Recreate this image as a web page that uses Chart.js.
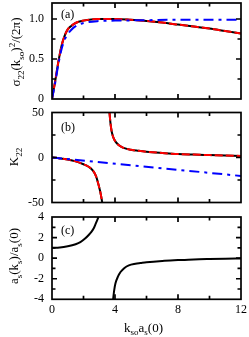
<!DOCTYPE html>
<html>
<head>
<meta charset="utf-8">
<script src="https://cdn.jsdelivr.net/npm/chart.js@4.4.1/dist/chart.umd.min.js"></script>
<style>
  html, body { margin: 0; padding: 0; background: #fff; }
  #wrap { position: relative; width: 249px; height: 337px; }
  #wrap canvas { position: absolute; left: 0; }
</style>
</head>
<body>
<div id="wrap">
  <canvas id="chart-a" width="249" height="105" style="top:0px"></canvas>
  <canvas id="chart-b" width="249" height="105" style="top:105px"></canvas>
  <canvas id="chart-c" width="249" height="127" style="top:210px"></canvas>
</div>
<script>
// panel (a): sigma_22 k^2/(2pi)
const SIGMA_X    = [0, 0.2, 0.4, 0.6, 0.8, 1.0, 1.2, 1.5, 2.0, 2.5, 3.0, 3.5, 4, 5, 6, 7, 8, 9, 10, 11, 12];
const SIGMA_FULL = [0, 0.22, 0.46, 0.66, 0.79, 0.87, 0.91, 0.95, 0.98, 0.995, 1.0, 1.0, 1.0, 0.99, 0.975, 0.955, 0.93, 0.905, 0.88, 0.85, 0.82];
const SIGMA_APPROX_X = [0, 0.2, 0.4, 0.6, 0.8, 1.0, 1.2, 1.5, 2.0, 3.0, 4.0, 6.0, 8.0, 12.0];
const SIGMA_APPROX   = [0, 0.2, 0.43, 0.62, 0.74, 0.81, 0.86, 0.91, 0.95, 0.975, 0.98, 0.985, 0.99, 0.99];

// panel (b): K_22, two branches around the pole
const K_NEG_X = [0, 0.5, 1.0, 1.5, 2.0, 2.3, 2.6, 2.8, 2.95, 3.05, 3.12, 3.19];
const K_NEG   = [0, -1, -2.3, -4.3, -7.5, -10, -14.5, -21, -30, -37, -43, -50];
const K_POS_X = [3.65, 3.72, 3.8, 3.9, 4.0, 4.25, 4.5, 5, 5.5, 6, 7, 8, 9, 10, 11, 12];
const K_POS   = [50, 37, 28, 22, 18.5, 13.5, 11, 8.6, 7.4, 6.4, 5, 3.8, 3.2, 2.7, 2.2, 1.7];
const K_LIN_X = [0, 12];
const K_LIN   = [0, -20.5];

// panel (c): a_s(k_s)/a_s(0)
const A_LOW_X  = [0, 0.5, 1.0, 1.5, 1.8, 2.1, 2.33, 2.5, 2.65, 2.75, 2.87, 2.95];
const A_LOW    = [1.0, 1.03, 1.15, 1.35, 1.55, 1.9, 2.25, 2.55, 2.9, 3.25, 3.7, 4.0];
const A_HIGH_X = [3.88, 3.95, 4.03, 4.2, 4.35, 4.6, 4.88, 5.3, 5.62, 6, 7, 8, 9, 10, 11, 12];
const A_HIGH   = [-4, -3.1, -2.45, -1.75, -1.35, -0.95, -0.7, -0.55, -0.48, -0.4, -0.27, -0.19, -0.12, -0.08, -0.05, -0.03];

// ticks
const X_LABELS = [0, 4, 8, 12];
const X_MAJOR  = [4, 8];
const X_MINOR  = [2, 6, 10];
const YA_LABELS = [0, 0.5, 1];
const YA_MINOR  = [0.25, 0.75];
const YB_LABELS = [-50, 0, 50];
const YB_MINOR  = [-25, 25];
const YC_LABELS = [-4, -2, 0, 2, 4];
const YC_MINOR  = [-3, -1, 1, 3];

const FONT = '"Liberation Serif", "Times New Roman", serif';
const RED  = '#ff0000';
const BLUE = '#0000ff';

const pts = (xs, ys) => xs.map((x, i) => ({ x, y: ys[i] }));

// lower order = drawn on top
function line(xs, ys, color, dash, order) {
  return {
    data: pts(xs, ys),
    showLine: true,
    borderColor: color,
    borderWidth: 2,
    borderDash: dash || [],
    pointRadius: 0,
    cubicInterpolationMode: 'monotone',
    fill: false,
    order,
  };
}

function richText(ctx, parts, cx, cy, size, rotate) {
  const fontFor = k => `${k === 'n' ? size : Math.round(size * 0.68)}px ${FONT}`;
  ctx.save();
  ctx.translate(cx, cy);
  if (rotate) ctx.rotate(-Math.PI / 2);
  ctx.fillStyle = '#000';
  ctx.textBaseline = 'alphabetic';
  ctx.textAlign = 'left';
  let w = 0;
  parts.forEach(([t, k]) => { ctx.font = fontFor(k); w += ctx.measureText(t).width; });
  let xx = -w / 2;
  parts.forEach(([t, k]) => {
    ctx.font = fontFor(k);
    const dy = k === 'sub' ? size * 0.28 : k === 'sup' ? -size * 0.42 : 0;
    ctx.fillText(t, xx, size * 0.33 + dy);
    xx += ctx.measureText(t).width;
  });
  ctx.restore();
}

const framePlugin = {
  id: 'frame',
  afterDraw(chart, args, o) {
    const { ctx, chartArea: a, scales: { x, y } } = chart;
    ctx.save();
    ctx.strokeStyle = '#000';
    ctx.lineWidth = 1.7;
    ctx.beginPath();
    const xt = (vals, len) => vals.forEach(v => {
      const px = x.getPixelForValue(v);
      ctx.moveTo(px, a.bottom); ctx.lineTo(px, a.bottom - len);
      ctx.moveTo(px, a.top);    ctx.lineTo(px, a.top + len);
    });
    const yt = (vals, len) => vals.forEach(v => {
      const py = y.getPixelForValue(v);
      ctx.moveTo(a.left, py);  ctx.lineTo(a.left + len, py);
      ctx.moveTo(a.right, py); ctx.lineTo(a.right - len, py);
    });
    xt(X_MAJOR, 5); xt(X_MINOR, 3.5);
    yt(o.yMajor, 5); yt(o.yMinor, 3.5);
    ctx.stroke();
    ctx.strokeRect(a.left, a.top, a.right - a.left, a.bottom - a.top);
    ctx.restore();

    ctx.save();
    ctx.fillStyle = '#000';
    ctx.font = `12px ${FONT}`;
    ctx.textBaseline = 'middle';
    ctx.fillText(o.panel, a.left + 9, a.top + o.panelDy);
    ctx.restore();

    richText(ctx, o.yTitle, o.yTitlePos[0], o.yTitlePos[1], 13, true);
    if (o.xTitle) richText(ctx, o.xTitle, (a.left + a.right) / 2 - 3, a.bottom + 28, 13, false);
  },
};

function makeChart(id, datasets, cfg) {
  return new Chart(document.getElementById(id), {
    type: 'scatter',
    data: { datasets },
    plugins: [framePlugin],
    options: {
      responsive: false,
      animation: false,
      events: [],
      layout: { padding: { left: 0, right: 8, top: cfg.padTop, bottom: cfg.padBottom } },
      plugins: {
        legend: { display: false },
        tooltip: { enabled: false },
        frame: cfg.frame,
      },
      scales: {
        x: {
          type: 'linear', min: 0, max: 12,
          display: cfg.showX,
          grid: { display: false, drawTicks: false },
          border: { display: false },
          afterBuildTicks: s => { s.ticks = X_LABELS.map(v => ({ value: v })); },
          afterFit: s => { s.height = cfg.xHeight || 0; s.paddingLeft = 0; s.paddingRight = 0; },
          ticks: { color: '#000', padding: 3, maxRotation: 0, font: { family: FONT, size: 12 } },
        },
        y: {
          type: 'linear', min: cfg.yMin, max: cfg.yMax,
          grid: { display: false, drawTicks: false },
          border: { display: false },
          afterBuildTicks: s => { s.ticks = cfg.yLabels.map(v => ({ value: v })); },
          afterFit: s => { s.width = 52; s.paddingTop = 0; s.paddingBottom = 0; },
          ticks: { color: '#000', padding: 8, font: { family: FONT, size: 12 } },
        },
      },
    },
  });
}

makeChart('chart-a', [
  line(SIGMA_X, SIGMA_FULL, '#000', null, 3),
  line(SIGMA_X, SIGMA_FULL, RED, [8, 3], 2),
  line(SIGMA_APPROX_X, SIGMA_APPROX, BLUE, [10, 5, 3, 5], 1),
], {
  padTop: 3, padBottom: 6, yMin: 0, yMax: 1.2, yLabels: YA_LABELS, showX: false,
  frame: {
    yMajor: [0.5, 1], yMinor: YA_MINOR, panel: '(a)', panelDy: 12,
    yTitle: [['σ', 'n'], ['22', 'sub'], ['(k', 'n'], ['so', 'sub'], [')', 'n'], ['2', 'sup'], ['/(2π)', 'n']],
    yTitlePos: [16, 52],
  },
});

makeChart('chart-b', [
  line(K_NEG_X, K_NEG, '#000', null, 3),
  line(K_NEG_X, K_NEG, RED, [8, 3], 2),
  line(K_POS_X, K_POS, '#000', null, 3),
  line(K_POS_X, K_POS, RED, [8, 3], 2),
  line(K_LIN_X, K_LIN, BLUE, [10, 5, 3, 5], 1),
], {
  padTop: 7.5, padBottom: 7.5, yMin: -50, yMax: 50, yLabels: YB_LABELS, showX: false,
  frame: {
    yMajor: [0], yMinor: YB_MINOR, panel: '(b)', panelDy: 15,
    yTitle: [['K', 'n'], ['22', 'sub']],
    yTitlePos: [14, 52],
  },
});

makeChart('chart-c', [
  line(A_LOW_X, A_LOW, '#000', null, 1),
  line(A_HIGH_X, A_HIGH, '#000', null, 1),
], {
  padTop: 7, padBottom: 0, yMin: -4, yMax: 4, yLabels: YC_LABELS, showX: true, xHeight: 37.7,
  frame: {
    yMajor: [-2, 0, 2], yMinor: YC_MINOR, panel: '(c)', panelDy: 14,
    yTitle: [['a', 'n'], ['s', 'sub'], ['(k', 'n'], ['s', 'sub'], [')/a', 'n'], ['s', 'sub'], ['(0)', 'n']],
    yTitlePos: [14, 46],
    xTitle: [['k', 'n'], ['so', 'sub'], ['a', 'n'], ['s', 'sub'], ['(0)', 'n']],
  },
});
</script>
</body>
</html>
